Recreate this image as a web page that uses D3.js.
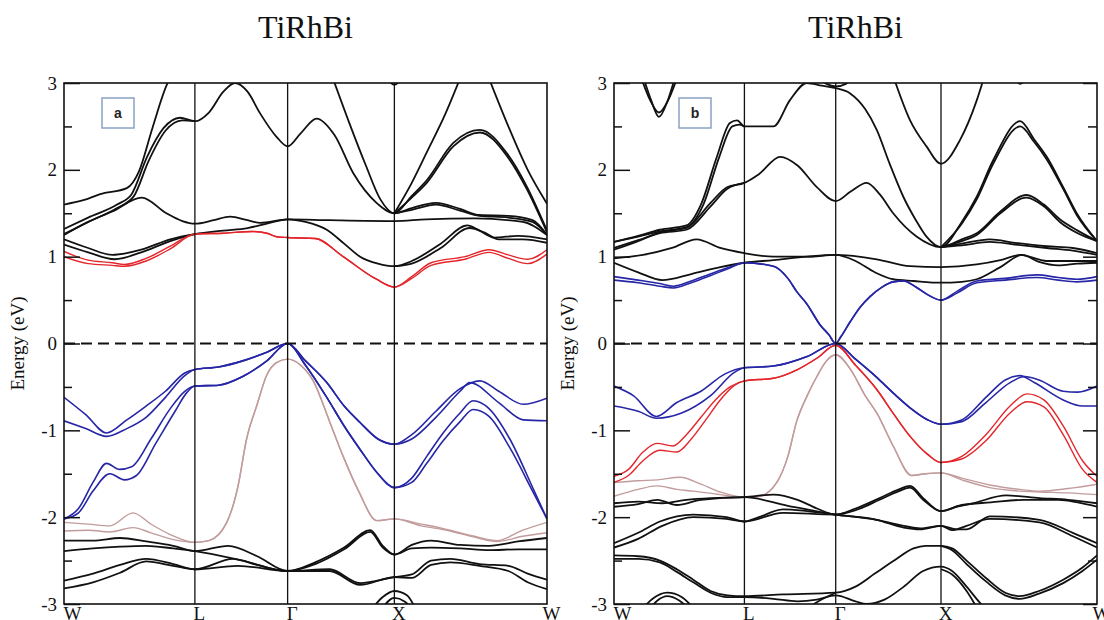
<!DOCTYPE html>
<html>
<head>
<meta charset="utf-8">
<script src="https://cdn.jsdelivr.net/npm/d3@7/dist/d3.min.js"></script>
<style>
  body { margin: 0; background: #fff; }
</style>
</head>
<body>
<div id="chart"></div>
<script>
// k-path labels and positions (fraction of path length)
var kLabels = ['W', 'L', 'Γ', 'X', 'W'];
var kTicksA = [0, 0.271, 0.463, 0.684, 1];
var kTicksB = [0, 0.27, 0.459, 0.677, 1];
var energyMajor = [-3, -2, -1, 0, 1, 2, 3];
var energyMinor = [-2.5, -1.5, -0.5, 0.5, 1.5, 2.5];

// ---- panel a : bands as [k, E] ----
var aBlack = [
  [[0,1.6],[0.04,1.65],[0.075,1.72],[0.13,1.79],[0.155,1.98],[0.183,2.48],[0.213,2.98],[0.222,3.08]],
  [[0,1.32],[0.05,1.45],[0.11,1.6],[0.14,1.72],[0.172,2.15],[0.206,2.48],[0.24,2.6],[0.271,2.56],[0.3,2.66],[0.33,2.9],[0.354,3.0],[0.38,2.9],[0.406,2.65],[0.44,2.38],[0.463,2.27],[0.49,2.42],[0.523,2.59],[0.56,2.4],[0.599,1.96],[0.647,1.62],[0.684,1.5],[0.72,1.7],[0.751,1.88],[0.806,2.31],[0.861,2.46],[0.917,2.19],[0.958,1.81],[1,1.3]],
  [[0,1.26],[0.05,1.4],[0.11,1.56],[0.145,1.7],[0.175,2.1],[0.21,2.45],[0.245,2.57],[0.271,2.56]],
  [[0.684,1.5],[0.72,1.68],[0.751,1.85],[0.806,2.27],[0.861,2.43],[0.917,2.16],[0.958,1.78],[1,1.28]],
  [[0.555,3.08],[0.59,2.55],[0.625,2.05],[0.655,1.66],[0.684,1.5],[0.72,1.56],[0.77,1.62],[0.82,1.55],[0.86,1.48],[0.92,1.47],[0.97,1.42],[1,1.25]],
  [[0.684,1.5],[0.72,1.54],[0.77,1.6],[0.82,1.53],[0.86,1.47],[0.92,1.45],[0.97,1.4],[1,1.25]],
  [[0.684,1.5],[0.72,1.85],[0.751,2.2],[0.79,2.65],[0.822,3.08]],
  [[0.878,3.08],[0.92,2.5],[0.96,2.0],[1,1.61]],
  [[0,1.25],[0.05,1.4],[0.1,1.52],[0.161,1.68],[0.212,1.5],[0.245,1.41],[0.271,1.38],[0.31,1.42],[0.344,1.46],[0.38,1.42],[0.406,1.39],[0.463,1.43],[0.55,1.42],[0.684,1.41],[0.75,1.43],[0.85,1.44],[0.95,1.4],[1,1.25]],
  [[0,1.2],[0.05,1.1],[0.1,1.02],[0.16,1.08],[0.22,1.2],[0.271,1.26],[0.33,1.3],[0.38,1.33],[0.42,1.38],[0.463,1.43],[0.5,1.4],[0.544,1.31],[0.58,1.15],[0.613,1.0],[0.65,0.92],[0.684,0.89],[0.72,0.95],[0.78,1.15],[0.835,1.36],[0.86,1.3],[0.89,1.22],[0.94,1.24],[1,1.2]],
  [[0,1.14],[0.05,1.05],[0.105,0.97],[0.16,1.05],[0.22,1.18],[0.271,1.26]],
  [[0.684,0.89],[0.72,0.92],[0.78,1.1],[0.84,1.33],[0.87,1.28],[0.9,1.2],[0.95,1.2],[1,1.16]],
  [[0.664,3.08],[0.684,2.98],[0.704,3.08]],
  [[0,-2.27],[0.06,-2.27],[0.116,-2.24],[0.17,-2.28],[0.226,-2.33],[0.271,-2.39],[0.34,-2.33],[0.4,-2.45],[0.463,-2.62],[0.52,-2.52],[0.58,-2.35],[0.634,-2.15],[0.66,-2.33],[0.684,-2.43],[0.72,-2.32],[0.76,-2.27],[0.82,-2.32],[0.88,-2.33],[0.94,-2.28],[1,-2.24]],
  [[0,-2.39],[0.06,-2.36],[0.116,-2.34],[0.17,-2.33],[0.226,-2.36],[0.271,-2.39],[0.37,-2.5],[0.463,-2.62],[0.55,-2.6],[0.613,-2.76],[0.684,-2.69],[0.72,-2.66],[0.76,-2.5],[0.8,-2.48],[0.86,-2.54],[0.92,-2.56],[0.96,-2.65],[1,-2.72]],
  [[0,-2.73],[0.06,-2.65],[0.116,-2.55],[0.17,-2.48],[0.226,-2.54],[0.271,-2.6],[0.35,-2.48],[0.4,-2.55],[0.463,-2.62],[0.52,-2.54],[0.58,-2.37],[0.634,-2.17],[0.66,-2.35],[0.684,-2.43],[0.72,-2.36],[0.76,-2.35],[0.82,-2.36],[0.88,-2.38],[0.94,-2.37],[1,-2.37]],
  [[0,-2.82],[0.06,-2.75],[0.116,-2.64],[0.17,-2.51],[0.226,-2.56],[0.271,-2.6],[0.36,-2.56],[0.463,-2.62],[0.55,-2.62],[0.613,-2.78],[0.684,-2.69],[0.72,-2.7],[0.76,-2.55],[0.8,-2.52],[0.86,-2.56],[0.92,-2.62],[0.96,-2.75],[1,-2.83]],
  [[0.634,-3.08],[0.66,-2.92],[0.684,-2.85],[0.71,-2.9],[0.73,-3.08]],
  [[0.655,-3.08],[0.684,-2.93],[0.705,-2.97],[0.725,-3.08]]
];
var aRed = [
  [[0,1.06],[0.05,0.96],[0.1,0.93],[0.125,0.91],[0.17,0.98],[0.22,1.12],[0.271,1.26],[0.33,1.27],[0.39,1.29],[0.42,1.27],[0.44,1.23],[0.463,1.22],[0.52,1.21],[0.578,1.0],[0.647,0.74],[0.684,0.65],[0.72,0.77],[0.76,0.93],[0.83,1.0],[0.88,1.08],[0.92,1.02],[0.96,0.97],[1,1.08]],
  [[0,1.0],[0.05,0.92],[0.1,0.9],[0.125,0.89],[0.17,0.95],[0.22,1.09],[0.271,1.26],[0.33,1.27],[0.39,1.29],[0.42,1.27],[0.44,1.23],[0.463,1.22],[0.52,1.21],[0.578,1.0],[0.647,0.74],[0.684,0.65],[0.72,0.75],[0.76,0.9],[0.83,0.97],[0.88,1.05],[0.92,0.98],[0.96,0.92],[1,1.03]]
];
var aBlue = [
  [[0,-0.62],[0.045,-0.82],[0.088,-1.03],[0.13,-0.88],[0.17,-0.72],[0.21,-0.55],[0.25,-0.34],[0.271,-0.3],[0.32,-0.27],[0.37,-0.2],[0.42,-0.1],[0.463,0],[0.5,-0.2],[0.544,-0.45],[0.58,-0.72],[0.613,-0.91],[0.65,-1.1],[0.684,-1.16],[0.72,-1.05],[0.77,-0.78],[0.82,-0.52],[0.861,-0.43],[0.9,-0.55],[0.951,-0.7],[1,-0.63]],
  [[0,-0.89],[0.045,-0.98],[0.088,-1.07],[0.13,-0.98],[0.17,-0.85],[0.21,-0.62],[0.25,-0.37],[0.271,-0.3],[0.32,-0.27],[0.37,-0.2],[0.42,-0.1],[0.463,0],[0.5,-0.2],[0.544,-0.45],[0.58,-0.72],[0.613,-0.91],[0.65,-1.1],[0.684,-1.16],[0.72,-1.1],[0.77,-0.85],[0.82,-0.55],[0.84,-0.45],[0.9,-0.68],[0.951,-0.88],[1,-0.89]],
  [[0,-2.02],[0.03,-1.9],[0.06,-1.6],[0.088,-1.38],[0.115,-1.45],[0.14,-1.42],[0.18,-1.1],[0.22,-0.75],[0.25,-0.55],[0.271,-0.49],[0.32,-0.48],[0.37,-0.38],[0.42,-0.2],[0.463,0],[0.5,-0.25],[0.544,-0.62],[0.58,-0.95],[0.613,-1.22],[0.65,-1.5],[0.684,-1.66],[0.72,-1.55],[0.751,-1.3],[0.785,-1.03],[0.82,-0.8],[0.847,-0.66],[0.88,-0.75],[0.923,-1.1],[0.972,-1.68],[1,-2.02]],
  [[0,-2.02],[0.03,-1.95],[0.06,-1.7],[0.095,-1.5],[0.125,-1.57],[0.15,-1.52],[0.19,-1.15],[0.23,-0.78],[0.255,-0.56],[0.271,-0.49],[0.32,-0.48],[0.37,-0.38],[0.42,-0.2],[0.463,0],[0.5,-0.25],[0.544,-0.62],[0.58,-0.95],[0.613,-1.22],[0.65,-1.5],[0.684,-1.66],[0.72,-1.6],[0.751,-1.38],[0.785,-1.12],[0.82,-0.9],[0.847,-0.76],[0.88,-0.84],[0.923,-1.2],[0.972,-1.72],[1,-2.02]]
];
var aBrown = [
  [[0,-2.06],[0.05,-2.08],[0.095,-2.1],[0.143,-1.95],[0.18,-2.08],[0.22,-2.2],[0.271,-2.29],[0.3,-2.27],[0.337,-2.06],[0.36,-1.65],[0.378,-1.1],[0.4,-0.7],[0.42,-0.36],[0.44,-0.22],[0.463,-0.18],[0.49,-0.25],[0.516,-0.43],[0.55,-0.9],[0.578,-1.3],[0.61,-1.7],[0.648,-2.04],[0.684,-2.02],[0.74,-2.08],[0.792,-2.14],[0.85,-2.22],[0.896,-2.27],[0.95,-2.15],[1,-2.06]],
  [[0,-2.16],[0.05,-2.15],[0.095,-2.17],[0.143,-2.12],[0.18,-2.18],[0.22,-2.25],[0.271,-2.29],[0.3,-2.27],[0.337,-2.06],[0.36,-1.65],[0.378,-1.1],[0.4,-0.7],[0.42,-0.36],[0.44,-0.22],[0.463,-0.18],[0.49,-0.25],[0.516,-0.43],[0.55,-0.9],[0.578,-1.3],[0.61,-1.7],[0.648,-2.04],[0.684,-2.02],[0.74,-2.1],[0.792,-2.15],[0.85,-2.23],[0.896,-2.28],[0.95,-2.22],[1,-2.18]]
];

// ---- panel b ----
var bBlack = [
  [[0.055,3.08],[0.075,2.8],[0.093,2.66],[0.112,2.8],[0.132,3.08]],
  [[0.06,3.08],[0.077,2.8],[0.093,2.61],[0.11,2.78],[0.127,3.08]],
  [[0,1.17],[0.05,1.24],[0.095,1.31],[0.15,1.36],[0.18,1.6],[0.213,2.15],[0.24,2.54],[0.255,2.57],[0.27,2.5],[0.33,2.5],[0.364,2.8],[0.399,3.0],[0.43,2.97],[0.459,2.94],[0.489,2.88],[0.52,2.7],[0.544,2.46],[0.57,2.08],[0.599,1.69],[0.625,1.42],[0.647,1.23],[0.677,1.11],[0.72,1.4],[0.751,1.69],[0.785,2.11],[0.841,2.56],[0.87,2.35],[0.896,2.15],[0.93,1.8],[0.958,1.5],[1,1.18]],
  [[0,1.17],[0.05,1.23],[0.095,1.29],[0.15,1.34],[0.185,1.6],[0.218,2.15],[0.245,2.5],[0.26,2.52],[0.27,2.5]],
  [[0.677,1.11],[0.72,1.38],[0.751,1.66],[0.785,2.07],[0.841,2.5],[0.87,2.32],[0.896,2.12],[0.93,1.78],[0.958,1.48],[1,1.18]],
  [[0,1.08],[0.05,1.18],[0.095,1.28],[0.15,1.33],[0.2,1.62],[0.234,1.8],[0.27,1.85],[0.3,1.95],[0.344,2.15],[0.38,2.05],[0.42,1.8],[0.459,1.64],[0.49,1.75],[0.523,1.85],[0.55,1.72],[0.578,1.5],[0.627,1.23],[0.677,1.11],[0.72,1.2],[0.751,1.27],[0.8,1.52],[0.854,1.71],[0.89,1.6],[0.923,1.43],[0.96,1.3],[1,1.18]],
  [[0,1.1],[0.05,1.19],[0.095,1.27],[0.15,1.31],[0.2,1.58],[0.234,1.78],[0.27,1.85]],
  [[0.677,1.11],[0.72,1.18],[0.751,1.25],[0.8,1.5],[0.854,1.68],[0.89,1.58],[0.923,1.4],[0.96,1.27],[1,1.18]],
  [[0.578,3.08],[0.613,2.57],[0.647,2.27],[0.677,2.07],[0.716,2.34],[0.751,2.8],[0.767,3.08]],
  [[0.42,3.08],[0.44,2.99],[0.459,2.96],[0.48,2.99],[0.495,3.08]],
  [[0.825,3.08],[0.841,2.99],[0.857,3.08]],
  [[0,0.98],[0.06,1.02],[0.12,1.1],[0.171,1.2],[0.22,1.1],[0.27,1.04],[0.33,1.0],[0.4,1.0],[0.459,1.02],[0.544,0.97],[0.613,0.89],[0.677,0.88],[0.751,0.91],[0.8,0.96],[0.841,1.02],[0.896,0.95],[0.95,0.95],[1,0.95]],
  [[0,0.93],[0.05,0.82],[0.1,0.73],[0.16,0.8],[0.22,0.88],[0.27,0.93],[0.33,0.96],[0.4,1.0],[0.459,1.02],[0.5,0.95],[0.54,0.82],[0.578,0.74],[0.62,0.72],[0.677,0.7],[0.72,0.71],[0.751,0.74],[0.8,0.88],[0.845,1.02],[0.88,0.94],[0.92,0.9],[0.96,0.92],[1,0.93]],
  [[0.677,1.11],[0.72,1.15],[0.778,1.2],[0.83,1.16],[0.896,1.12],[0.95,1.1],[1,1.04]],
  [[0.677,1.11],[0.72,1.13],[0.778,1.17],[0.83,1.14],[0.896,1.1],[0.95,1.07],[1,1.02]],
  [[0,-1.84],[0.05,-1.82],[0.1,-1.84],[0.15,-1.8],[0.2,-1.78],[0.27,-1.77],[0.33,-1.74],[0.38,-1.8],[0.42,-1.9],[0.459,-1.97],[0.5,-1.9],[0.55,-1.78],[0.59,-1.68],[0.613,-1.64],[0.64,-1.78],[0.677,-1.93],[0.71,-1.88],[0.743,-1.84],[0.812,-1.75],[0.881,-1.78],[0.94,-1.8],[1,-1.84]],
  [[0,-1.88],[0.05,-1.85],[0.09,-1.8],[0.13,-1.86],[0.18,-1.8],[0.27,-1.77],[0.36,-1.87],[0.459,-1.97],[0.544,-2.03],[0.6,-2.12],[0.634,-2.14],[0.677,-2.1],[0.71,-2.14],[0.73,-2.14],[0.778,-1.99],[0.881,-2.03],[0.95,-2.18],[1,-2.3]],
  [[0,-2.3],[0.05,-2.18],[0.095,-2.05],[0.164,-1.97],[0.233,-2.0],[0.27,-2.05],[0.3,-2.0],[0.35,-1.91],[0.4,-1.93],[0.459,-1.97],[0.544,-2.03],[0.6,-2.1],[0.634,-2.13],[0.677,-2.1],[0.7,-2.15],[0.73,-2.1],[0.778,-2.02],[0.881,-2.06],[0.95,-2.22],[1,-2.35]],
  [[0,-2.35],[0.05,-2.25],[0.1,-2.1],[0.164,-2.0],[0.233,-2.02],[0.27,-2.05],[0.35,-1.95],[0.459,-1.97],[0.5,-1.92],[0.55,-1.8],[0.59,-1.7],[0.613,-1.66],[0.64,-1.8],[0.677,-1.93],[0.72,-1.86],[0.78,-1.83],[0.85,-1.8],[0.92,-1.8],[0.96,-1.83],[1,-1.88]],
  [[0,-2.44],[0.05,-2.45],[0.095,-2.5],[0.13,-2.6],[0.164,-2.72],[0.2,-2.85],[0.235,-2.9],[0.27,-2.91],[0.35,-2.89],[0.459,-2.87],[0.5,-2.8],[0.54,-2.65],[0.58,-2.5],[0.62,-2.36],[0.645,-2.33],[0.677,-2.33],[0.7,-2.36],[0.73,-2.5],[0.77,-2.7],[0.81,-2.87],[0.84,-2.91],[0.88,-2.85],[0.93,-2.72],[0.97,-2.58],[1,-2.44]],
  [[0,-2.48],[0.05,-2.48],[0.095,-2.52],[0.13,-2.63],[0.164,-2.75],[0.2,-2.87],[0.235,-2.92],[0.27,-2.92],[0.33,-2.94],[0.38,-2.97],[0.42,-2.95],[0.459,-2.9],[0.5,-2.97],[0.523,-3.0],[0.56,-2.95],[0.6,-2.8],[0.64,-2.62],[0.677,-2.57],[0.7,-2.62],[0.73,-2.8],[0.76,-3.0],[0.775,-3.08]],
  [[0.677,-2.33],[0.7,-2.38],[0.73,-2.54],[0.77,-2.74],[0.81,-2.9],[0.84,-2.94],[0.88,-2.88],[0.93,-2.76],[0.97,-2.62],[1,-2.49]],
  [[0.677,-2.6],[0.7,-2.66],[0.73,-2.85],[0.755,-3.08]],
  [[0.055,-3.08],[0.08,-2.94],[0.11,-2.87],[0.14,-2.92],[0.17,-3.08]],
  [[0.07,-3.08],[0.09,-2.96],[0.11,-2.91],[0.135,-2.96],[0.16,-3.08]],
  [[0.395,-3.08],[0.42,-2.98],[0.459,-2.87]]
];
var bRed = [
  [[0,-1.53],[0.03,-1.45],[0.06,-1.25],[0.089,-1.15],[0.122,-1.18],[0.15,-1.05],[0.18,-0.85],[0.21,-0.65],[0.24,-0.5],[0.27,-0.43],[0.33,-0.4],[0.38,-0.3],[0.42,-0.17],[0.459,-0.02],[0.5,-0.25],[0.544,-0.53],[0.58,-0.82],[0.613,-1.07],[0.65,-1.28],[0.677,-1.37],[0.72,-1.3],[0.77,-1.05],[0.82,-0.72],[0.855,-0.58],[0.89,-0.65],[0.93,-0.95],[0.97,-1.35],[1,-1.53]],
  [[0,-1.6],[0.03,-1.52],[0.06,-1.35],[0.095,-1.23],[0.13,-1.25],[0.16,-1.1],[0.19,-0.88],[0.22,-0.65],[0.25,-0.48],[0.27,-0.43],[0.33,-0.4],[0.38,-0.3],[0.42,-0.17],[0.459,-0.02],[0.5,-0.25],[0.544,-0.53],[0.58,-0.82],[0.613,-1.07],[0.65,-1.28],[0.677,-1.37],[0.72,-1.33],[0.77,-1.12],[0.82,-0.8],[0.855,-0.67],[0.89,-0.73],[0.93,-1.05],[0.97,-1.45],[1,-1.6]]
];
var bBlue = [
  [[0,-0.49],[0.04,-0.6],[0.088,-0.84],[0.13,-0.68],[0.18,-0.55],[0.23,-0.35],[0.27,-0.28],[0.33,-0.26],[0.4,-0.15],[0.459,0],[0.5,-0.18],[0.544,-0.39],[0.58,-0.58],[0.613,-0.74],[0.65,-0.88],[0.677,-0.93],[0.72,-0.9],[0.77,-0.68],[0.82,-0.45],[0.85,-0.38],[0.88,-0.42],[0.93,-0.55],[0.96,-0.56],[1,-0.49]],
  [[0,-0.72],[0.05,-0.78],[0.088,-0.86],[0.14,-0.8],[0.2,-0.6],[0.25,-0.33],[0.27,-0.28],[0.33,-0.26],[0.4,-0.15],[0.459,0],[0.5,-0.18],[0.544,-0.39],[0.58,-0.58],[0.613,-0.74],[0.65,-0.88],[0.677,-0.93],[0.72,-0.88],[0.77,-0.62],[0.81,-0.42],[0.84,-0.37],[0.87,-0.45],[0.93,-0.65],[0.97,-0.72],[1,-0.72]],
  [[0,0.77],[0.05,0.73],[0.095,0.69],[0.123,0.66],[0.16,0.72],[0.199,0.8],[0.24,0.88],[0.27,0.93],[0.33,0.89],[0.36,0.75],[0.378,0.6],[0.4,0.45],[0.426,0.22],[0.445,0.1],[0.459,0],[0.47,0.08],[0.489,0.25],[0.51,0.42],[0.53,0.54],[0.555,0.65],[0.578,0.71],[0.6,0.72],[0.625,0.65],[0.65,0.56],[0.677,0.5],[0.71,0.6],[0.751,0.72],[0.81,0.75],[0.875,0.79],[0.92,0.76],[0.958,0.74],[1,0.77]],
  [[0,0.73],[0.05,0.7],[0.095,0.66],[0.123,0.64],[0.16,0.7],[0.199,0.78],[0.24,0.87],[0.27,0.93],[0.33,0.89],[0.36,0.75],[0.378,0.6],[0.4,0.45],[0.426,0.22],[0.445,0.1],[0.459,0],[0.47,0.08],[0.489,0.25],[0.51,0.42],[0.53,0.54],[0.555,0.65],[0.578,0.71],[0.6,0.72],[0.625,0.65],[0.65,0.56],[0.677,0.5],[0.71,0.58],[0.751,0.7],[0.81,0.73],[0.875,0.76],[0.92,0.73],[0.958,0.71],[1,0.73]]
];
var bBrown = [
  [[0,-1.6],[0.05,-1.58],[0.09,-1.57],[0.137,-1.54],[0.18,-1.62],[0.22,-1.71],[0.27,-1.77],[0.3,-1.76],[0.337,-1.6],[0.36,-1.3],[0.378,-0.9],[0.4,-0.6],[0.42,-0.38],[0.44,-0.2],[0.459,-0.13],[0.49,-0.3],[0.52,-0.6],[0.544,-0.8],[0.578,-1.18],[0.616,-1.52],[0.645,-1.5],[0.677,-1.49],[0.72,-1.55],[0.778,-1.63],[0.84,-1.68],[0.882,-1.7],[0.94,-1.67],[1,-1.62]],
  [[0,-1.76],[0.05,-1.68],[0.089,-1.64],[0.13,-1.68],[0.164,-1.7],[0.22,-1.74],[0.27,-1.77],[0.3,-1.76],[0.337,-1.6],[0.36,-1.3],[0.378,-0.9],[0.4,-0.6],[0.42,-0.38],[0.44,-0.2],[0.459,-0.13],[0.49,-0.3],[0.52,-0.6],[0.544,-0.8],[0.578,-1.18],[0.616,-1.52],[0.645,-1.5],[0.677,-1.49],[0.72,-1.57],[0.778,-1.66],[0.84,-1.7],[0.882,-1.71],[0.94,-1.72],[1,-1.74]]
];

var colors = { black: '#111', red: '#e3262b', blue: '#2626a6', brown: '#c29c9c' };
var serif = '"Liberation Serif", "Times New Roman", serif';

var W = 1104, H = 620, plotTop = 83, plotBottom = 604;

var svg = d3.select('#chart').append('svg')
  .attr('width', W).attr('height', H);
svg.append('rect').attr('width', W).attr('height', H).attr('fill', '#fff');

function drawPanel(p) {
  var x = d3.scaleLinear().domain([0, 1]).range([p.left, p.right]);
  var y = d3.scaleLinear().domain([-3, 3]).range([plotBottom, plotTop]);
  var g = svg.append('g');

  var clipId = 'clip-' + p.tag;
  svg.append('clipPath').attr('id', clipId)
    .append('rect')
    .attr('x', p.left).attr('y', plotTop)
    .attr('width', p.right - p.left).attr('height', plotBottom - plotTop);

  var lnMkr = d3.line()
    .x(function (d) { return x(d[0]); })
    .y(function (d) { return y(d[1]); })
    .curve(d3.curveMonotoneX);

  var bandG = g.append('g').attr('clip-path', 'url(#' + clipId + ')');
  p.sets.forEach(function (s) {
    bandG.append('g')
      .selectAll('path')
      .data(s.bands)
      .enter()
      .append('path')
      .attr('d', lnMkr)
      .attr('fill', 'none')
      .attr('stroke', s.color)
      .attr('stroke-width', s.width)
      .attr('stroke-linejoin', 'round');
  });

  // high-symmetry lines
  g.selectAll('line.sym')
    .data(p.kTicks.slice(1, -1))
    .enter()
    .append('line')
    .attr('x1', function (d) { return x(d); })
    .attr('x2', function (d) { return x(d); })
    .attr('y1', plotTop).attr('y2', plotBottom)
    .attr('stroke', '#111').attr('stroke-width', 1.3);

  // Fermi level
  g.append('line')
    .attr('x1', p.left).attr('x2', p.right)
    .attr('y1', y(0)).attr('y2', y(0))
    .attr('stroke', '#111').attr('stroke-width', 2.2)
    .attr('stroke-dasharray', '11,6');

  // frame
  g.append('rect')
    .attr('x', p.left).attr('y', plotTop)
    .attr('width', p.right - p.left).attr('height', plotBottom - plotTop)
    .attr('fill', 'none').attr('stroke', '#111').attr('stroke-width', 1.6);

  // left axis: major ticks with labels, minor ticks
  var axL = g.append('g').attr('transform', 'translate(' + p.left + ',0)')
    .call(d3.axisLeft(y).tickValues(energyMajor).tickSize(-16).tickPadding(7)
      .tickFormat(function (d) { return String(d); }));
  axL.select('.domain').remove();
  axL.selectAll('line').attr('stroke', '#111').attr('stroke-width', 1.5);
  axL.selectAll('text').attr('font-family', serif).attr('font-size', 19).attr('fill', '#111');

  var axLm = g.append('g').attr('transform', 'translate(' + p.left + ',0)')
    .call(d3.axisLeft(y).tickValues(energyMinor).tickSize(-8).tickFormat(''));
  axLm.select('.domain').remove();
  axLm.selectAll('line').attr('stroke', '#111').attr('stroke-width', 1.5);

  if (p.rightTicks) {
    var axR = g.append('g').attr('transform', 'translate(' + p.right + ',0)')
      .call(d3.axisRight(y).tickValues(energyMajor).tickSize(-14).tickFormat(''));
    axR.select('.domain').remove();
    axR.selectAll('line').attr('stroke', '#111').attr('stroke-width', 1.5);
    var axRm = g.append('g').attr('transform', 'translate(' + p.right + ',0)')
      .call(d3.axisRight(y).tickValues(energyMinor).tickSize(-9).tickFormat(''));
    axRm.select('.domain').remove();
    axRm.selectAll('line').attr('stroke', '#111').attr('stroke-width', 1.5);
  }

  // k-point labels (partly cut by the lower edge, as in the original figure)
  var axB = g.append('g').attr('transform', 'translate(0,' + plotBottom + ')')
    .call(d3.axisBottom(x).tickValues(p.kTicks).tickSize(0).tickPadding(2)
      .tickFormat(function (d, i) { return kLabels[i]; }));
  axB.select('.domain').remove();
  axB.selectAll('text')
    .attr('font-family', serif).attr('font-size', 19).attr('fill', '#111')
    .attr('dx', function (d, i) { return i === 0 ? 8 : 4; });

  // title and y label
  g.append('text')
    .attr('x', (p.left + p.right) / 2).attr('y', 38)
    .attr('text-anchor', 'middle')
    .attr('font-family', serif).attr('font-size', 32).attr('fill', '#111')
    .text(p.title);

  g.append('text')
    .attr('transform', 'translate(' + (p.left - 40) + ',' + y(0) + ') rotate(-90)')
    .attr('text-anchor', 'middle')
    .attr('font-family', serif).attr('font-size', 19).attr('fill', '#111')
    .text('Energy (eV)');

  // panel tag box
  var tg = g.append('g').attr('transform', 'translate(' + (p.left + p.tagDx) + ',' + (plotTop + 15) + ')');
  tg.append('rect').attr('width', 32).attr('height', 30)
    .attr('fill', '#fff').attr('stroke', '#8aa2c4').attr('stroke-width', 1.5);
  tg.append('text').attr('x', 16).attr('y', 20)
    .attr('text-anchor', 'middle')
    .attr('font-family', '"Liberation Sans", Arial, sans-serif')
    .attr('font-weight', 'bold').attr('font-size', 14).attr('fill', '#222')
    .text(p.tag);
}

drawPanel({
  tag: 'a', title: 'TiRhBi', left: 64, right: 547, tagDx: 38,
  kTicks: kTicksA, rightTicks: false,
  sets: [
    { bands: aBrown, color: colors.brown, width: 1.4 },
    { bands: aBlack, color: colors.black, width: 1.8 },
    { bands: aRed, color: colors.red, width: 1.4 },
    { bands: aBlue, color: colors.blue, width: 1.6 }
  ]
});

drawPanel({
  tag: 'b', title: 'TiRhBi', left: 614, right: 1097, tagDx: 65,
  kTicks: kTicksB, rightTicks: true,
  sets: [
    { bands: bBrown, color: colors.brown, width: 1.4 },
    { bands: bBlack, color: colors.black, width: 1.8 },
    { bands: bRed, color: colors.red, width: 1.4 },
    { bands: bBlue, color: colors.blue, width: 1.6 }
  ]
});
</script>
</body>
</html>
